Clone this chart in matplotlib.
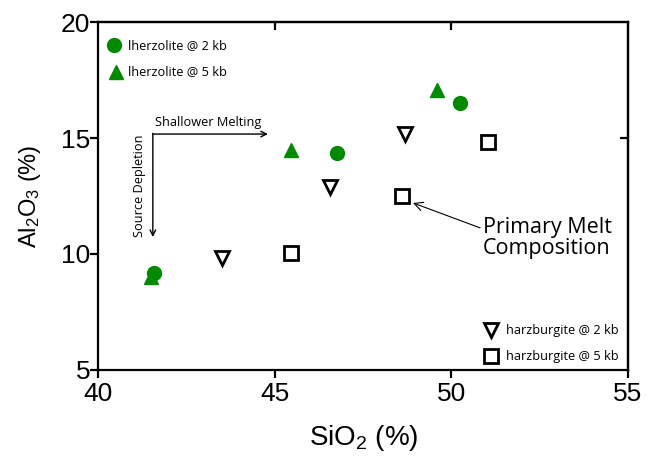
import matplotlib.pyplot as plt

plt.rcParams['mathtext.fontset'] = 'custom'
plt.rcParams['mathtext.rm'] = 'Liberation Sans'
plt.rcParams['mathtext.it'] = 'Liberation Sans'

# lherzolite @ 2 kb
lz2_si = [41.57, 46.76, 50.24]
lz2_al = [9.18, 14.35, 16.5]
# lherzolite @ 5 kb
lz5_si = [41.5, 45.45, 49.6]
lz5_al = [9.0, 14.48, 17.07]
# harzburgite @ 2 kb
hz2_si = [43.5, 46.56, 48.68]
hz2_al = [9.83, 12.9, 15.17]
# harzburgite @ 5 kb
hz5_si = [45.45, 48.6, 51.03]
hz5_al = [10.04, 12.5, 14.83]

xticks = [40, 45, 50, 55]
yticks = [5, 10, 15, 20]

green = '#008a00'
small_font = 'Open Sans'

fig = plt.figure(figsize=(6.47, 4.59), dpi=100)
ax = fig.add_axes([0.1522, 0.194, 0.8184, 0.758])

ax.plot(lz2_si, lz2_al, 'o', color=green, markersize=10, zorder=3)
ax.plot(lz5_si, lz5_al, '^', color=green, markersize=10, zorder=3)
ax.plot(hz2_si, hz2_al, 'v', markerfacecolor='white', markeredgecolor='black',
        markeredgewidth=2, markersize=10, zorder=3)
ax.plot(hz5_si, hz5_al, 's', markerfacecolor='white', markeredgecolor='black',
        markeredgewidth=2, markersize=10, zorder=3)

ax.set_xlim(40, 55)
ax.set_ylim(5, 20)
ax.set_xticks(xticks)
ax.set_yticks(yticks)
for s in ax.spines.values():
    s.set_linewidth(1.6)
ax.tick_params(axis='both', direction='out', length=6, width=1.6,
               labelsize=19, pad=0)
ax.tick_params(axis='x', pad=3)
for lab in ax.get_xticklabels() + ax.get_yticklabels():
    lab.set_family('Liberation Sans')

# inward ticks on top and right
ax_t = ax.secondary_xaxis('top')
ax_t.set_xticks([45, 50])
ax_t.tick_params(direction='in', length=6, width=1.6, labeltop=False)
ax_r = ax.secondary_yaxis('right')
ax_r.set_yticks([15])
ax_r.tick_params(direction='in', length=6, width=1.6, labelright=False)
ax_t.spines['top'].set_linewidth(1.6)
ax_r.spines['right'].set_linewidth(1.6)

ax.set_xlabel('SiO$_2$ (%)', fontsize=20, family='Liberation Sans', labelpad=12)
ax.set_ylabel('Al$_2$O$_3$ (%)', fontsize=17, family='Liberation Sans', labelpad=13)

# legends drawn as markers and text
ax.plot(40.44, 19.0, 'o', color=green, markersize=10, clip_on=False)
ax.text(40.84, 19.0, 'lherzolite @ 2 kb', fontsize=9.2, family=small_font, va='center')
ax.plot(40.5, 17.85, '^', color=green, markersize=10, clip_on=False)
ax.text(40.84, 17.85, 'lherzolite @ 5 kb', fontsize=9.2, family=small_font, va='center')

ax.plot(51.12, 6.72, 'v', markerfacecolor='white', markeredgecolor='black',
        markeredgewidth=2, markersize=10)
ax.text(51.55, 6.72, 'harzburgite @ 2 kb', fontsize=9.2, family=small_font, va='center')
ax.plot(51.12, 5.6, 's', markerfacecolor='white', markeredgecolor='black',
        markeredgewidth=2, markersize=10)
ax.text(51.55, 5.6, 'harzburgite @ 5 kb', fontsize=9.2, family=small_font, va='center')

# process arrows
ax.annotate('', xy=(44.8, 15.17), xytext=(41.54, 15.17),
            arrowprops=dict(arrowstyle='->', lw=1, color='black',
                            shrinkA=0, shrinkB=0))
ax.annotate('', xy=(41.54, 10.73), xytext=(41.54, 15.2),
            arrowprops=dict(arrowstyle='->', lw=1, color='black',
                            shrinkA=0, shrinkB=0))
ax.text(41.6, 15.69, 'Shallower Melting', fontsize=9.2, family=small_font,
        ha='left', va='center')
ax.text(41.15, 12.93, 'Source Depletion', fontsize=9.2, family=small_font,
        rotation=90, ha='center', va='center')

ax.annotate('Primary Melt\nComposition', xy=(48.91, 12.2), xytext=(50.89, 10.69),
            fontsize=15.5, family=small_font, ha='left', va='center',
            linespacing=0.95,
            arrowprops=dict(arrowstyle='->', lw=0.8, color='black',
                            shrinkA=0, shrinkB=0, relpos=(0, 0.72)))

fig.savefig('out.png', dpi=100)
